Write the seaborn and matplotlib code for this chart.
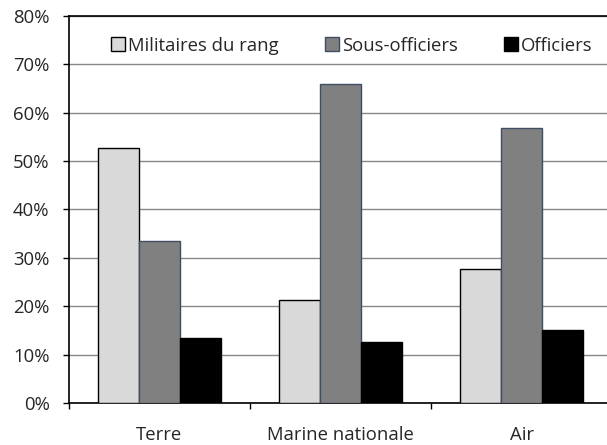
import pandas as pd
import numpy as np
import matplotlib
matplotlib.use('Agg')
import matplotlib.pyplot as plt
from matplotlib.ticker import FixedLocator, PercentFormatter
import seaborn as sns

# values (% of staff)
branches = ['Terre', 'Marine nationale', 'Air']
grades = ['Militaires du rang', 'Sous-officiers', 'Officiers']
militaires_du_rang = [52.7, 21.3, 27.7]
sous_officiers = [33.5, 65.8, 56.8]
officiers = [13.5, 12.6, 15.2]

fills = ['#d9d9d9', '#808080', '#000000']
edges = ['#000000', '#3f4d63', '#000000']

df = pd.DataFrame({
    'branche': branches * 3,
    'grade': [g for g in grades for _ in branches],
    'part': militaires_du_rang + sous_officiers + officiers,
})

sns.set_style('white')
plt.rcParams['font.family'] = ['Open Sans', 'DejaVu Sans']
fs = 13.3

fig = plt.figure(figsize=(6.07, 4.45), dpi=100)
ax = fig.add_axes([69 / 607, 1 - 403.3 / 445, 1 - 69 / 607, (403.3 - 15.7) / 445])

sns.barplot(data=df, x='branche', y='part', hue='grade', order=branches,
            hue_order=grades, palette=fills, width=0.685, saturation=1,
            ax=ax, legend=False, zorder=3)

for cont, ec in zip(ax.containers, edges):
    for p in cont:
        p.set_edgecolor(ec)
        p.set_linewidth(1.0)

ax.set_ylim(0, 80)
ax.set_xlim(-0.5, -0.5 + (607 - 69) / 181)
ax.yaxis.set_major_locator(FixedLocator(np.arange(0, 81, 10)))
ax.yaxis.set_major_formatter(PercentFormatter(decimals=0))
ax.grid(axis='y', color='#878787', linewidth=1.0, zorder=0)
ax.set_axisbelow(True)

ax.set_xlabel('')
ax.set_ylabel('')
ax.tick_params(axis='y', which='major', direction='out', length=4.5, width=1,
               color='black', pad=9.5, labelsize=fs, left=True)
ax.tick_params(axis='x', which='major', length=0, pad=16, labelsize=fs)
ax.xaxis.set_minor_locator(FixedLocator([-0.5, 0.5, 1.5, 2.5]))
ax.tick_params(axis='x', which='minor', direction='out', length=4.5, width=1,
               color='black', bottom=True)

for side in ['left', 'bottom', 'top']:
    ax.spines[side].set_color('black')
    ax.spines[side].set_linewidth(1.2)
ax.spines['right'].set_visible(False)

handles = [plt.Rectangle((0, 0), 1, 1, facecolor=f, edgecolor=e, linewidth=1.0)
           for f, e in zip(fills, edges)]
ax.legend(handles, grades, ncol=3, loc='center',
          bbox_to_anchor=((352 - 69) / 538, 1 - 30 / 387.6),
          frameon=False, fontsize=fs, handlelength=0.76, handleheight=0.76,
          handletextpad=0.16, columnspacing=2.5, borderaxespad=0, borderpad=0)

fig.savefig('out.png', dpi=100)
